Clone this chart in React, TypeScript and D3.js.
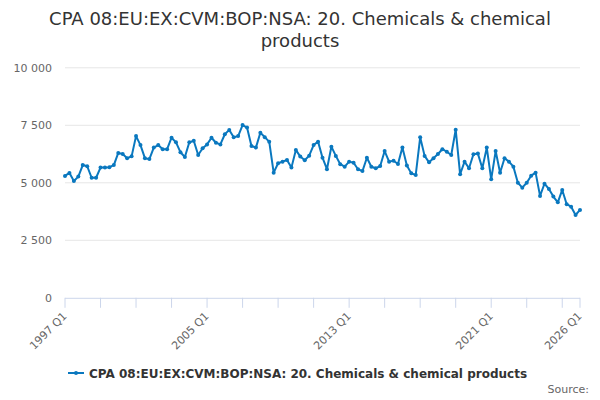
import React from "react";
import * as d3 from "d3";

const title = ["CPA 08:EU:EX:CVM:BOP:NSA: 20. Chemicals & chemical", "products"];
const seriesName = "CPA 08:EU:EX:CVM:BOP:NSA: 20. Chemicals & chemical products";
const startYear = 1997;
const values: number[] = [
  5300, 5430, 5080, 5270, 5770, 5720, 5220, 5220, 5660, 5670,
  5680, 5770, 6300, 6250, 6070, 6150, 7030, 6640, 6070, 6030,
  6530, 6640, 6460, 6460, 6960, 6760, 6330, 6120, 6760, 6830,
  6210, 6500, 6670, 6960, 6740, 6670, 7110, 7300, 6980, 7030,
  7510, 7400, 6600, 6530, 7180, 6980, 6790, 5440, 5850, 5920,
  5990, 5660, 6430, 6140, 5980, 6180, 6640, 6790, 6090, 5590,
  6570, 6170, 5810, 5700, 5920, 5870, 5590, 5510, 6090, 5700,
  5630, 5730, 6380, 5920, 5960, 5820, 6540, 5750, 5410, 5340,
  6980, 6170, 5890, 6070, 6250, 6460, 6350, 6210, 7310, 5370,
  5920, 5630, 6240, 6270, 5630, 6530, 5150, 6380, 5440, 6070,
  5920, 5700, 5000, 4790, 5000, 5310, 5440, 4430, 4960, 4730,
  4400, 4150, 4690, 4070, 3960, 3600, 3820,
];
const categories = values.map((_, i) => `${startYear + Math.floor(i / 4)} Q${(i % 4) + 1}`);
const yTicks = [0, 2500, 5000, 7500, 10000];
const xTickLabels = ["1997 Q1", "2005 Q1", "2013 Q1", "2021 Q1", "2026 Q1"];

const W = 600;
const H = 400;
const color = "#0a78bf";
const font = "'DejaVu Sans', sans-serif";

export default function App() {
  const x = d3.scaleLinear().domain([0, values.length - 1]).range([65, 580]);
  const y = d3.scaleLinear().domain([0, 10000]).range([297.8, 67.8]);
  const line = d3.line<number>().x((_, i) => x(i)).y((d) => y(d));
  const fmt = (v: number) => d3.format(",")(v).replace(/,/g, " ");
  const tickIdx: number[] = [];
  for (let i = 0; i < values.length; i += 8) tickIdx.push(i);
  if (tickIdx[tickIdx.length - 1] !== values.length - 1) tickIdx.push(values.length - 1);
  const labelIdx = xTickLabels.map((l) => categories.indexOf(l));

  return (
    <svg width={W} height={H} style={{ position: "absolute", left: 0, top: 0, fontFamily: font }}>
      <rect width={W} height={H} fill="#fff" />
      <text x={300} y={25} textAnchor="middle" fontSize={18} fill="#333">
        <tspan x={300} y={25}>{title[0]}</tspan>
        <tspan x={300} y={47}>{title[1]}</tspan>
      </text>
      {yTicks.map((t) => (
        <g key={t}>
          {t > 0 && <line x1={65} x2={580} y1={y(t)} y2={y(t)} stroke="#e6e6e6" strokeWidth={1} />}
          <text x={52} y={y(t) + 4} textAnchor="end" fontSize={11} fill="#666">{fmt(t)}</text>
        </g>
      ))}
      <line x1={65} x2={580} y1={y(0) + 0.5} y2={y(0) + 0.5} stroke="#ccd6eb" strokeWidth={1} />
      {tickIdx.map((i) => (
        <line key={i} x1={x(i)} x2={x(i)} y1={y(0)} y2={y(0) + 10} stroke="#ccd6eb" strokeWidth={1} />
      ))}
      {labelIdx.map((i, k) => (
        <text key={k} transform={`translate(${x(i) + 2.5},${y(0) + 19}) rotate(-45)`} textAnchor="end" fontSize={11} fill="#666">
          {xTickLabels[k]}
        </text>
      ))}
      <path d={line(values) || ""} fill="none" stroke={color} strokeWidth={2} strokeLinejoin="round" />
      {values.map((v, i) => (
        <circle key={i} cx={x(i)} cy={y(v)} r={2} fill={color} />
      ))}
      <line x1={68} x2={84} y1={373} y2={373} stroke={color} strokeWidth={2} />
      <circle cx={76} cy={373} r={2} fill={color} />
      <text x={89} y={378} fontSize={12} fontWeight="bold" fill="#333">{seriesName}</text>
      <text x={589} y={393} textAnchor="end" fontSize={11} fill="#666">Source:</text>
    </svg>
  );
}
